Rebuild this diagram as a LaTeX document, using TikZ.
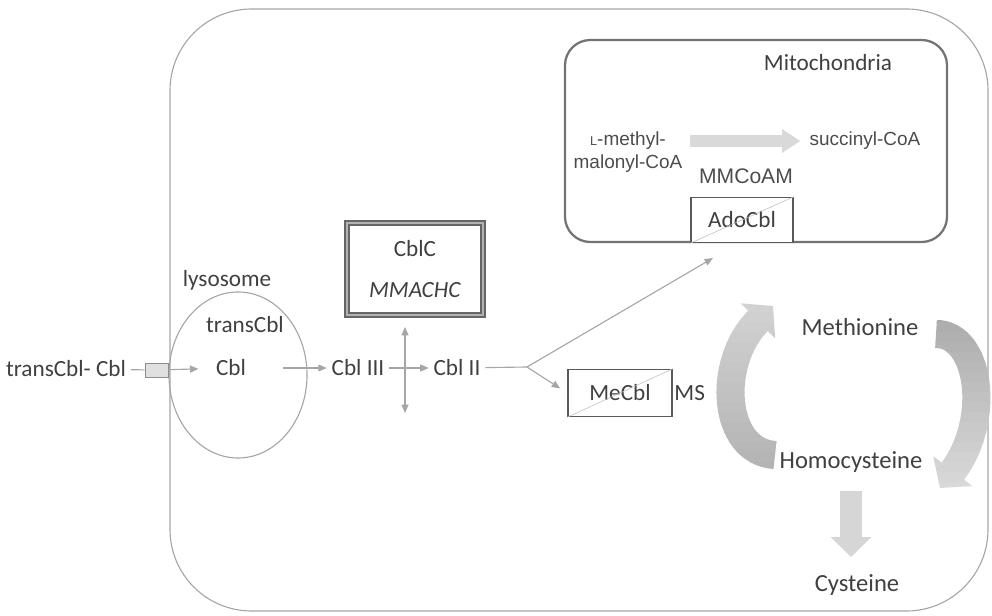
\documentclass[tikz,border=0pt]{standalone}
\usepackage{fontspec}
\setmainfont{Carlito}
\newfontfamily\arialfont{Liberation Sans}
\usepackage{tikz}
\usetikzlibrary{arrows.meta,shapes.geometric}

\tikzset{
	lbl/.style={text=black!75,font=\fontsize{16.5}{20}\selectfont},
	mlbl/.style={text=black!70,font=\arialfont\fontsize{13.5}{16}\selectfont},
	thin line/.style={draw=black!35,line width=0.8pt},
	tip/.style={-{Triangle[length=6pt,width=5pt]}},
	cofbox/.style={draw=black!65,line width=1pt,fill=white,lbl},
}
\newcommand{\leftloop}{(775,455) .. controls (722,452) and (716,362) .. (773,306)}
\newcommand{\rightloop}{(936,334) .. controls (980,334) and (992,420) .. (940,488)}

\begin{document}
\begin{tikzpicture}[x=0.025cm,y=-0.025cm,line cap=butt]
			\useasboundingbox (0,0) rectangle (992,616);
			% cell and mitochondria
			\draw[thin line,rounded corners=58pt] (170,9) rectangle (988,611);
			\draw[draw=black!55,line width=1.6pt,rounded corners=18pt] (565,40) rectangle (947,242);
			\node[lbl] (mito) at (828,63) {Mitochondria};
			% lysosome
			\node[thin line,ellipse,minimum width=3.45cm,minimum height=4.15cm] (lyso) at (238,375) {};
			\node[lbl] (lysolbl) at (227,280) {lysosome};
			\node[lbl] (tcblin) at (245,325) {transCbl};
			\node[lbl] (cbl) at (231,368) {Cbl};
			\node[lbl] (tcbl) at (66,369) {transCbl- Cbl};
			\node[draw=black!45,fill=black!12,minimum width=0.575cm,minimum height=0.35cm,inner sep=0pt] (gate) at (156.5,370) {};
			\draw[thin line] (tcbl) -- (gate);
			\draw[thin line,tip,shorten >=9pt] (gate) -- (cbl);
			% cobalamin steps
			\node[lbl] (cbl3) at (358,368) {Cbl III};
			\node[lbl] (cbl2) at (457,368) {Cbl II};
			\draw[thin line,tip,shorten <=23pt] (cbl) -- (cbl3);
			\draw[thin line,tip] (cbl3) -- (cbl2);
			\node[lbl,draw=black!60,line width=1.8pt,double=black!30,double distance=0.9pt,
				minimum width=3.4cm,minimum height=2.3cm,align=center] (cblc) at (415,269)
				{CblC\\[9pt]\textit{MMACHC}};
			\coordinate (vtop) at (405,327);
			\coordinate (vbot) at (405,413);
			\draw[thin line,{Triangle[length=6pt,width=5pt]}-{Triangle[length=6pt,width=5pt]}] (vtop) -- (vbot);
			% cofactors
			\node[cofbox,minimum width=2.55cm,minimum height=1.125cm] (ado) at (742,220) {AdoCbl};
			\draw[black!25] (ado.south west) -- (ado.north east);
			\node[cofbox,minimum width=2.6cm,minimum height=1.175cm] (mecbl) at (620,393) {MeCbl};
			\draw[black!25] (mecbl.south west) -- (mecbl.north east);
			\node[lbl,anchor=west,inner sep=1pt] (ms) at (mecbl.east) {MS};
			\coordinate (fork) at (527,367);
			\coordinate (adotip) at (713,258);
			\draw[thin line] (cbl2) -- (fork);
			\draw[thin line,tip] (fork) -- (adotip);
			\draw[thin line,tip,shorten >=6pt] (fork) -- (mecbl.west);
			% mitochondrial reaction
			\node[mlbl,align=center] (mmcoa) at (628,152) {{\fontsize{9}{9}\selectfont L}-methyl-\\malonyl-CoA};
			\node[mlbl] (succ) at (865,141) {succinyl-CoA};
			\node[mlbl,font=\arialfont\fontsize{15}{18}\selectfont] (mmcoam) at (746,176) {MMCoAM};
			\draw[black!15,line width=9pt,-{Triangle[length=13pt,width=16pt]},shorten <=2pt,shorten >=3pt]
				(mmcoa.east |- succ) -- (succ.west);
			% methionine cycle
			\node[lbl,font=\fontsize{17.5}{21}\selectfont] (met) at (860,327) {Methionine};
			\node[lbl,font=\fontsize{17.5}{21}\selectfont] (hcy) at (851,462) {Homocysteine};
			\node[lbl,font=\fontsize{17.5}{21}\selectfont] (cys) at (857,585) {Cysteine};
			\foreach \i in {0,...,22} {
				\pgfmathsetmacro{\ya}{292+10*\i}
				\pgfmathsetmacro{\shadeL}{17+0.75*min(\i,19)}
				\pgfmathsetmacro{\shadeR}{35-1.05*min(\i,19)}
				\begin{scope}
					\clip (700,\ya) rectangle (999,\ya+10.5);
					\draw[black!\shadeL,line width=20pt,-{Triangle[length=15pt,width=34pt]}] \leftloop;
					\draw[black!\shadeR,line width=20pt,-{Triangle[length=15pt,width=34pt]}] \rightloop;
				\end{scope}
			}
			\draw[black!16,line width=15pt,-{Triangle[length=14pt,width=28pt]},shorten <=10pt,shorten >=9pt]
				(hcy.south) -- (hcy.south |- cys.north);
	\end{tikzpicture}
\end{document}
